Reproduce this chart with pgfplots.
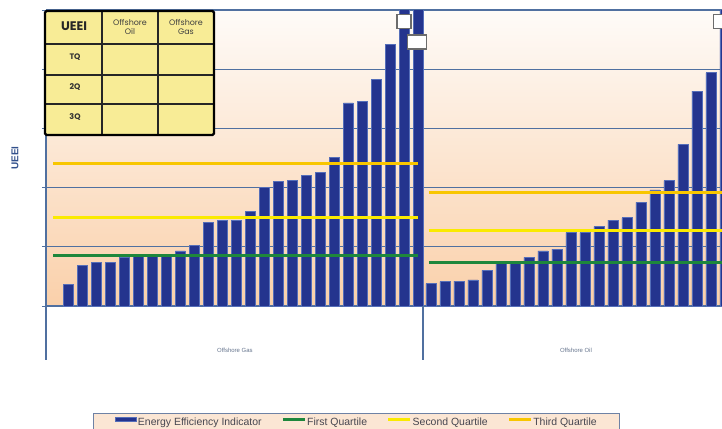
\documentclass[border=0pt]{standalone}
\usepackage{fontspec}
\setmainfont{Liberation Sans}
\newfontfamily\tabfont{Poppins}
\usepackage{pgfplots}
\usepackage{pgfplotstable}
\pgfplotsset{compat=1.18}

\definecolor{bgpeach}{RGB}{250,208,170}
\definecolor{bgtop}{RGB}{254,251,248}
\definecolor{gridblue}{RGB}{80,112,160}
\definecolor{barfill}{RGB}{36,52,142}
\definecolor{baredge}{RGB}{85,110,185}
\definecolor{qone}{RGB}{30,135,60}
\definecolor{qtwo}{RGB}{250,234,0}
\definecolor{qthree}{RGB}{248,198,0}
\definecolor{tabyellow}{RGB}{248,236,150}
\definecolor{labelblue}{RGB}{50,80,140}
\definecolor{catgray}{RGB}{100,115,140}
\definecolor{legendbg}{RGB}{251,230,212}
\definecolor{legendborder}{RGB}{110,130,165}
\definecolor{legendtext}{RGB}{70,70,80}

% Offshore Gas group
\pgfplotstableread{
x y
1 0.37
2 0.68
3 0.74
4 0.74
5 0.82
6 0.85
7 0.85
8 0.86
9 0.93
10 1.02
11 1.41
12 1.45
13 1.45
14 1.59
15 2.00
16 2.10
17 2.12
18 2.20
19 2.26
20 2.51
21 3.43
22 3.45
23 3.83
24 4.42
25 5.20
26 5.20
}\gasdata

% Offshore Oil group
\pgfplotstableread{
x y
26.9 0.38
27.9 0.41
28.9 0.42
29.9 0.44
30.9 0.60
31.9 0.72
32.9 0.74
33.9 0.82
34.9 0.93
35.9 0.96
36.9 1.24
37.9 1.24
38.9 1.34
39.9 1.45
40.9 1.49
41.9 1.75
42.9 1.96
43.9 2.12
44.9 2.73
45.9 3.63
46.9 3.94
47.9 5.20
}\oildata

\begin{document}
\begin{tikzpicture}
\useasboundingbox (0,0) rectangle (722bp,-429bp);
\begin{axis}[
  at={(46bp,-306bp)}, anchor=south west,
  scale only axis, width=676bp, height=296bp,
  xmin=-0.593, xmax=47.69, ymin=0, ymax=5,
  axis line style={draw=none},
  axis background/.style={shade, top color=bgtop, bottom color=bgpeach},
  ymajorgrids, grid style={gridblue, line width=1.3bp},
  ytick={0,1,2,3,4,5}, yticklabels={},
  ytick pos=left, tick align=outside, major tick length=4bp,
  ytick style={gridblue, line width=1bp},
  xtick={12.9,37.26}, xticklabels={Offshore Gas, Offshore Oil},
  xtick pos=bottom, x tick style={draw=none},
  xticklabel style={font=\fontsize{6}{7}\selectfont, text=catgray, yshift=-35bp},
  ylabel={UEEI},
  every axis y label/.style={at={(axis description cs:0,0.5)}, xshift=-31bp, rotate=90, anchor=center, font=\bfseries\fontsize{10}{11}\selectfont, text=labelblue},
  legend columns=4,
  legend cell align=left,
  legend image code/.code={\draw[#1] (0bp,3bp) -- (22bp,3bp);},
  legend style={at={(axis description cs:0.0695,-0.36)}, anchor=north west,
    draw=legendborder, fill=legendbg, line width=0.8bp,
    font=\fontsize{10.5}{11.5}\selectfont, text=legendtext,
    inner xsep=22bp, inner ysep=3bp,
    nodes={inner xsep=0.8bp},
    /tikz/every even column/.append style={column sep=19bp}},
]
\addplot[ybar, bar width=10bp, fill=barfill, draw=baredge, line width=0.8bp,
  legend image code/.code={\draw[fill=barfill, draw=baredge] (0bp,0.8bp) rectangle (21bp,5.2bp);}]
  table[x=x, y=y] {\gasdata};
\addlegendentry{Energy Efficiency Indicator}
\addplot[ybar, bar width=10bp, fill=barfill, draw=baredge, line width=0.8bp, forget plot]
  table[x=x, y=y] {\oildata};

\addplot[qone, line width=3bp] coordinates {(-0.09,0.86) (25.96,0.86)};
\addlegendentry{First Quartile}
\addplot[qtwo, line width=3bp] coordinates {(-0.09,1.49) (25.96,1.49)};
\addlegendentry{Second Quartile}
\addplot[qthree, line width=3bp] coordinates {(-0.09,2.40) (25.96,2.40)};
\addlegendentry{Third Quartile}

\addplot[qone, line width=3bp, forget plot] coordinates {(26.76,0.74) (48,0.74)};
\addplot[qtwo, line width=3bp, forget plot] coordinates {(26.76,1.27) (48,1.27)};
\addplot[qthree, line width=3bp, forget plot] coordinates {(26.76,1.91) (48,1.91)};

\addplot[only marks, mark=square*, mark size=7bp, forget plot,
  mark options={fill=white, draw=gray!85!black, line width=1.2bp, rounded corners=1.5bp}]
  coordinates {(24.97,4.81) (47.6,4.81)};
\addplot[only marks, mark=square*, mark size=7bp, forget plot,
  mark options={xscale=1.4, fill=white, draw=gray!85!black, line width=1.2bp, rounded corners=1.5bp}]
  coordinates {(25.9,4.46)};
\end{axis}

\begin{scope}[x=1bp, y=-1bp]
  % axis frame extensions
  \draw[gridblue, line width=1.3bp] (46,10) -- (46,360);
  \draw[gridblue, line width=1.3bp] (423,306) -- (423,360);
  % table
  \fill[tabyellow] (45,11) rectangle (214,135);
  \draw[black!85, line width=1.2bp] (102,11) -- (102,135) (158,11) -- (158,135)
    (45,44) -- (214,44) (45,75) -- (214,75) (45,104) -- (214,104);
  \draw[black, line width=2.4bp, rounded corners=1.5bp] (45,11) rectangle (214,135);
  \node[font=\tabfont\bfseries\fontsize{12.5}{13}\selectfont, text=black!85] at (74,26) {UEEI};
  \node[font=\tabfont\fontsize{8}{8.5}\selectfont, text=black!75, align=center] at (130,27) {Offshore\\Oil};
  \node[font=\tabfont\fontsize{8}{8.5}\selectfont, text=black!75, align=center] at (186,27) {Offshore\\Gas};
  \node[font=\tabfont\bfseries\fontsize{8}{9}\selectfont, text=black!80] at (75,57) {TQ};
  \node[font=\tabfont\bfseries\fontsize{8}{9}\selectfont, text=black!80] at (75,87) {2Q};
  \node[font=\tabfont\bfseries\fontsize{8}{9}\selectfont, text=black!80] at (75,117) {3Q};
\end{scope}
\end{tikzpicture}
\end{document}
